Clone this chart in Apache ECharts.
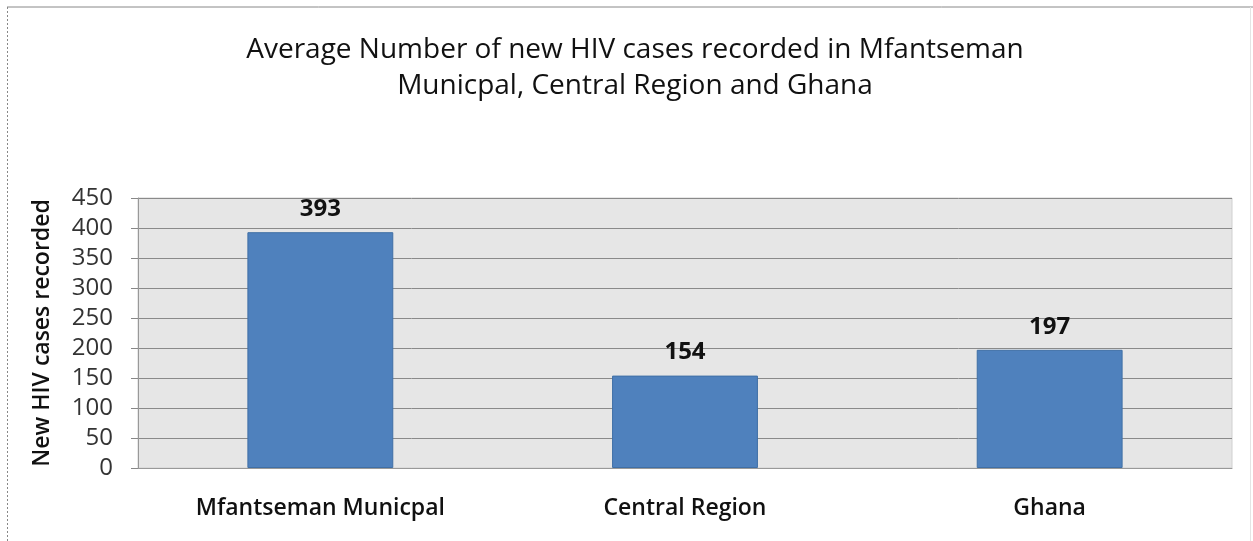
<!DOCTYPE html>
<html>
<head>
<meta charset="utf-8">
<script src="https://cdn.jsdelivr.net/npm/echarts@6/dist/echarts.min.js"></script>
<style>
  html, body { margin: 0; padding: 0; background: #fff; }
  #container { width: 1253px; height: 541px; }
</style>
</head>
<body>
<div id="container"></div>
<script>
const categories = ['Mfantseman Municpal', 'Central Region', 'Ghana']
const newCases = [393, 154, 197]
const yTicks = [0, 50, 100, 150, 200, 250, 300, 350, 400, 450]

const font = '"Open Sans", Lato, sans-serif'
const chart = echarts.init(document.getElementById('container'))

chart.setOption({
  animation: false,
  title: {
    text: 'Average Number of new HIV cases recorded in Mfantseman\nMunicpal, Central Region and Ghana',
    left: 630,
    top: 27,
    textAlign: 'center',
    textStyle: {
      fontFamily: font,
      fontSize: 28,
      fontWeight: 500,
      color: '#111',
      lineHeight: 36
    }
  },
  grid: {
    left: 138,
    right: 21,
    top: 198,
    bottom: 73,
    show: true,
    backgroundColor: '#e6e6e6',
    borderColor: '#d0d0d0',
    borderWidth: 1
  },
  graphic: [
    { type: 'line', shape: { x1: 7, y1: 7, x2: 1253, y2: 7 }, style: { stroke: '#888', lineWidth: 1 } },
    { type: 'line', shape: { x1: 7.5, y1: 7, x2: 7.5, y2: 541 }, style: { stroke: '#888', lineWidth: 1, lineDash: [2, 2] } },
    { type: 'line', shape: { x1: 1250.5, y1: 7, x2: 1250.5, y2: 541 }, style: { stroke: '#e4e4e4', lineWidth: 1 } }
  ],
  xAxis: {
    type: 'category',
    data: categories,
    axisLine: { lineStyle: { color: '#999' } },
    axisTick: { show: false },
    axisLabel: {
      margin: 29,
      fontFamily: font,
      fontSize: 23,
      fontWeight: 600,
      color: '#111'
    }
  },
  yAxis: {
    type: 'value',
    min: yTicks[0],
    max: yTicks[yTicks.length - 1],
    interval: 50,
    name: 'New HIV cases recorded',
    nameLocation: 'middle',
    nameGap: 84,
    nameTextStyle: {
      fontFamily: font,
      fontSize: 23,
      fontWeight: 600,
      color: '#111'
    },
    axisLine: { show: true, lineStyle: { color: '#999' } },
    axisTick: { show: true, length: 7, lineStyle: { color: '#888' } },
    axisLabel: {
      margin: 25,
      fontFamily: font,
      fontSize: 24,
      color: '#333'
    },
    splitLine: { lineStyle: { color: '#8a8a8a', width: 1 } }
  },
  series: [{
    type: 'bar',
    data: newCases,
    barWidth: '40%',
    itemStyle: { color: '#4f81bd', borderColor: '#3f6fa6', borderWidth: 1 },
    label: {
      show: true,
      position: 'top',
      distance: 11,
      fontFamily: font,
      fontSize: 24,
      fontWeight: 'bold',
      color: '#111'
    }
  }]
})
</script>
</body>
</html>
